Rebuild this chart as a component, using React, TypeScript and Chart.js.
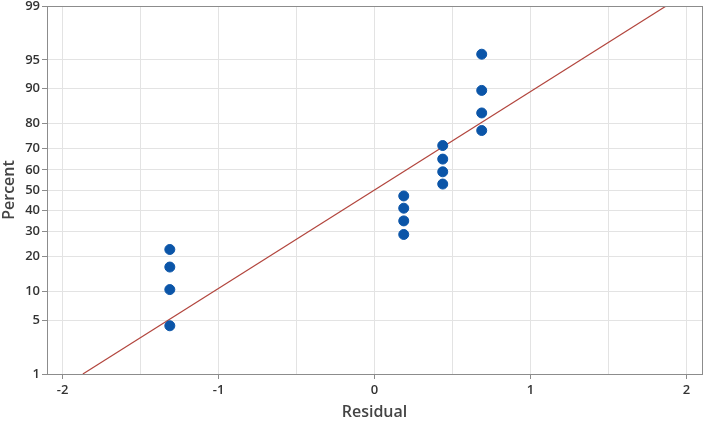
import React, { useEffect, useRef } from "react";
import { Chart, registerables } from "chart.js";

Chart.register(...registerables);

// Residuals (x) and plotting percents (y)
const residuals = [-1.3125, -1.3125, -1.3125, -1.3125, 0.1875, 0.1875, 0.1875, 0.1875, 0.4375, 0.4375, 0.4375, 0.4375, 0.6875, 0.6875, 0.6875, 0.6875];
const percents = [4.3, 10.4, 16.5, 22.6, 28.7, 34.8, 40.9, 47.0, 53.0, 59.1, 65.2, 71.3, 77.4, 83.5, 89.6, 95.7];

// Fitted reference line endpoints
const lineResiduals = [-1.87, 1.87];
const linePercents = [1, 99];

// Axis ticks
const percentTicks = [1, 5, 10, 20, 30, 40, 50, 60, 70, 80, 90, 95, 99];
const residualGrid = [-2, -1.5, -1, -0.5, 0, 0.5, 1, 1.5, 2];

// inverse normal CDF (Acklam)
function probit(p: number): number {
  const a = [-3.969683028665376e1, 2.209460984245205e2, -2.759285104469687e2, 1.38357751867269e2, -3.066479806614716e1, 2.506628277459239];
  const b = [-5.447609879822406e1, 1.615858368580409e2, -1.556989798598866e2, 6.680131188771972e1, -1.328068155288572e1];
  const c = [-7.784894002430293e-3, -3.223964580411365e-1, -2.400758277161838, -2.549732539343734, 4.374664141464968, 2.938163982698783];
  const d = [7.784695709041462e-3, 3.224671290700398e-1, 2.445134137142996, 3.754408661907416];
  const pl = 0.02425;
  let q, r;
  if (p < pl) {
    q = Math.sqrt(-2 * Math.log(p));
    return (((((c[0] * q + c[1]) * q + c[2]) * q + c[3]) * q + c[4]) * q + c[5]) / ((((d[0] * q + d[1]) * q + d[2]) * q + d[3]) * q + 1);
  } else if (p <= 1 - pl) {
    q = p - 0.5;
    r = q * q;
    return ((((((a[0] * r + a[1]) * r + a[2]) * r + a[3]) * r + a[4]) * r + a[5]) * q) / (((((b[0] * r + b[1]) * r + b[2]) * r + b[3]) * r + b[4]) * r + 1);
  } else {
    q = Math.sqrt(-2 * Math.log(1 - p));
    return -(((((c[0] * q + c[1]) * q + c[2]) * q + c[3]) * q + c[4]) * q + c[5]) / ((((d[0] * q + d[1]) * q + d[2]) * q + d[3]) * q + 1);
  }
}
const z = (pct: number) => probit(pct / 100);

const FONT = "'Open Sans', 'Noto Sans', sans-serif";

export default function App() {
  const ref = useRef<HTMLCanvasElement | null>(null);
  useEffect(() => {
    document.body.style.margin = "0";
    const canvas = ref.current!;
    const borderPlugin = {
      id: "frame",
      afterDraw(chart: any) {
        const { ctx, chartArea: a } = chart;
        ctx.save();
        ctx.strokeStyle = "#8c8c8c";
        ctx.lineWidth = 1;
        ctx.strokeRect(Math.round(a.left) + 0.5, Math.round(a.top) + 0.5, Math.round(a.right - a.left), Math.round(a.bottom - a.top));
        ctx.restore();
      },
    };
    const chart = new Chart(canvas, {
      type: "scatter",
      data: {
        datasets: [
          {
            label: "Residuals",
            data: residuals.map((x, i) => ({ x, y: z(percents[i]) })),
            backgroundColor: "#0b55a8",
            borderColor: "#0b55a8",
            pointRadius: 5,
            pointHoverRadius: 5,
            order: 0,
          },
          {
            type: "line",
            label: "Fit",
            data: lineResiduals.map((x, i) => ({ x, y: z(linePercents[i]) })),
            borderColor: "#b2453d",
            borderWidth: 1.2,
            pointRadius: 0,
            fill: false,
            order: 1,
          } as any,
        ],
      },
      options: {
        responsive: false,
        animation: false,
        events: [],
        layout: { padding: { top: 2, right: 1, left: 0, bottom: 0 } },
        plugins: { legend: { display: false }, tooltip: { enabled: false } },
        scales: {
          x: {
            type: "linear",
            min: -2.1,
            max: 2.1,
            afterBuildTicks: (s: any) => {
              s.ticks = residualGrid.map((v) => ({ value: v }));
            },
            afterFit: (s: any) => {
              s.height = 49;
              s.paddingLeft = 0;
              s.paddingRight = 0;
            },
            border: { display: true, color: "#8c8c8c" },
            grid: {
              color: "#e3e3e3",
              tickLength: 5,
              tickColor: (ctx: any) => (ctx.tick && Number.isInteger(ctx.tick.value) ? "#8c8c8c" : "rgba(0,0,0,0)"),
            },
            ticks: {
              autoSkip: false,
              maxRotation: 0,
              padding: 3,
              color: "#333",
              font: { family: FONT, size: 13, weight: "600" },
              callback: (v: any) => (Number.isInteger(v) ? String(v) : ""),
            },
            title: {
              display: true,
              text: "Residual",
              color: "#444",
              font: { family: FONT, size: 16, weight: "600" },
              padding: { top: 0, bottom: 1 },
            },
          },
          y: {
            type: "linear",
            min: z(1),
            max: z(99),
            afterBuildTicks: (s: any) => {
              s.ticks = percentTicks.map((p) => ({ value: z(p), label: String(p) }));
            },
            afterFit: (s: any) => {
              s.width = 47;
              s.paddingTop = 0;
              s.paddingBottom = 0;
            },
            border: { display: true, color: "#8c8c8c" },
            grid: { color: "#e3e3e3", tickLength: 5, tickColor: "#8c8c8c" },
            ticks: {
              autoSkip: false,
              padding: 2,
              color: "#333",
              font: { family: FONT, size: 13, weight: "600" },
              callback: (v: any) => {
                const p = percentTicks.find((t) => Math.abs(z(t) - v) < 1e-6);
                return p === undefined ? "" : String(p);
              },
            },
            title: {
              display: true,
              text: "Percent",
              color: "#444",
              font: { family: FONT, size: 16, weight: "600" },
              padding: { top: 0, bottom: 0 },
            },
          },
        },
      },
      plugins: [borderPlugin],
    });
    return () => chart.destroy();
  }, []);
  return <canvas ref={ref} width={708} height={423} style={{ display: "block" }} />;
}
